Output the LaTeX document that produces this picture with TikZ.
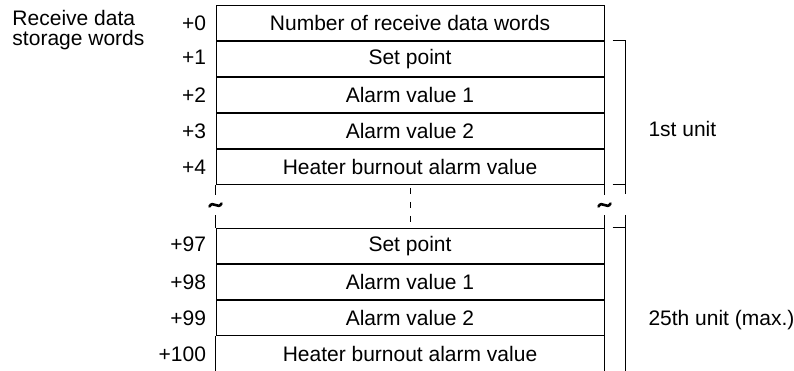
\documentclass[tikz,border=0pt]{standalone}
\usepackage{fontspec}
\setmainfont{Liberation Sans}
\usetikzlibrary{positioning}

\begin{document}
\begin{tikzpicture}[
  x=1pt, y=-1pt,
  font=\fontsize{21}{20}\selectfont,
  line width=1pt,
  cell/.style={rectangle, draw, minimum width=388pt, minimum height=35pt, inner sep=0pt},
  opencell/.style={rectangle, minimum width=388pt, minimum height=35pt, inner sep=0pt},
  offset/.style={anchor=base east, inner sep=0pt},
  unitlabel/.style={anchor=base west, inner sep=0pt},
  squig/.pic={\draw[line width=2.6pt, line cap=round] (-6pt,-1.5pt) .. controls (-3pt,5pt) and (3pt,-5pt) .. (6pt,1.5pt);}
]
  \useasboundingbox (0,0) rectangle (794,371);

  % Header text on the left
  \node[anchor=north west, align=left, inner sep=0pt] (hdr) at (12,10) {Receive data\\storage words};

  % Words +0 ... +4
  \node[cell] (w0) at (410,23) {Number of receive data words};
  \node[cell, below=0pt of w0] (w1) {Set point};
  \node[cell, below=0pt of w1] (w2) {Alarm value 1};
  \node[cell, below=0pt of w2] (w3) {Alarm value 2};
  \node[cell, below=0pt of w3] (w4) {Heater burnout alarm value};

  % Words +97 ... +100
  \node[cell] (w97) at (410,246) {Set point};
  \node[cell, below=0pt of w97] (w98) {Alarm value 1};
  \node[cell, below=0pt of w98] (w99) {Alarm value 2};
  \node[opencell, below=0pt of w99] (w100) {Heater burnout alarm value};
  \draw (w100.north west) -- ([yshift=-6pt]w100.south west);
  \draw (w100.north east) -- ([yshift=-6pt]w100.south east);

  % Offsets
  \node[offset] (l0) at ([xshift=-9pt]w0.base west) {+0};
  \node[offset] (l1) at ([xshift=-9pt]w1.base west) {+1};
  \node[offset] (l2) at ([xshift=-9pt]w2.base west) {+2};
  \node[offset] (l3) at ([xshift=-9pt]w3.base west) {+3};
  \node[offset] (l4) at ([xshift=-9pt]w4.base west) {+4};
  \node[offset] (l97) at ([xshift=-9pt]w97.base west) {+97};
  \node[offset] (l98) at ([xshift=-9pt]w98.base west) {+98};
  \node[offset] (l99) at ([xshift=-9pt]w99.base west) {+99};
  \node[offset] (l100) at ([xshift=-9pt]w100.base west) {+100};

  % Break between +4 and +97
  \draw (w4.south west) -- ++(0,10);
  \draw (w4.south east) -- ++(0,10);
  \draw (w97.north west) -- ++(0,-13);
  \draw (w97.north east) -- ++(0,-13);
  \pic at ([yshift=-20pt]w4.south west) {squig};
  \pic at ([yshift=-20pt]w4.south east) {squig};
  \draw[dash pattern=on 6pt off 8pt, dash phase=11pt] (w4.south) -- (w97.north);

  % Unit brackets
  \draw ([xshift=8pt]w1.north east) -- ++(13,0) -- ++(0,153);
  \draw ([xshift=8pt]w4.south east) -- ++(13,0);
  \draw ([xshift=8pt]w97.north east) -- ++(13,0);
  \draw ([xshift=21pt,yshift=13pt]w97.north east) -- ++(0,170);
  \node[unitlabel] (u1) at (648,137) {1st unit};
  \node[unitlabel] (u25) at (648,325) {25th unit (max.)};
\end{tikzpicture}
\end{document}
